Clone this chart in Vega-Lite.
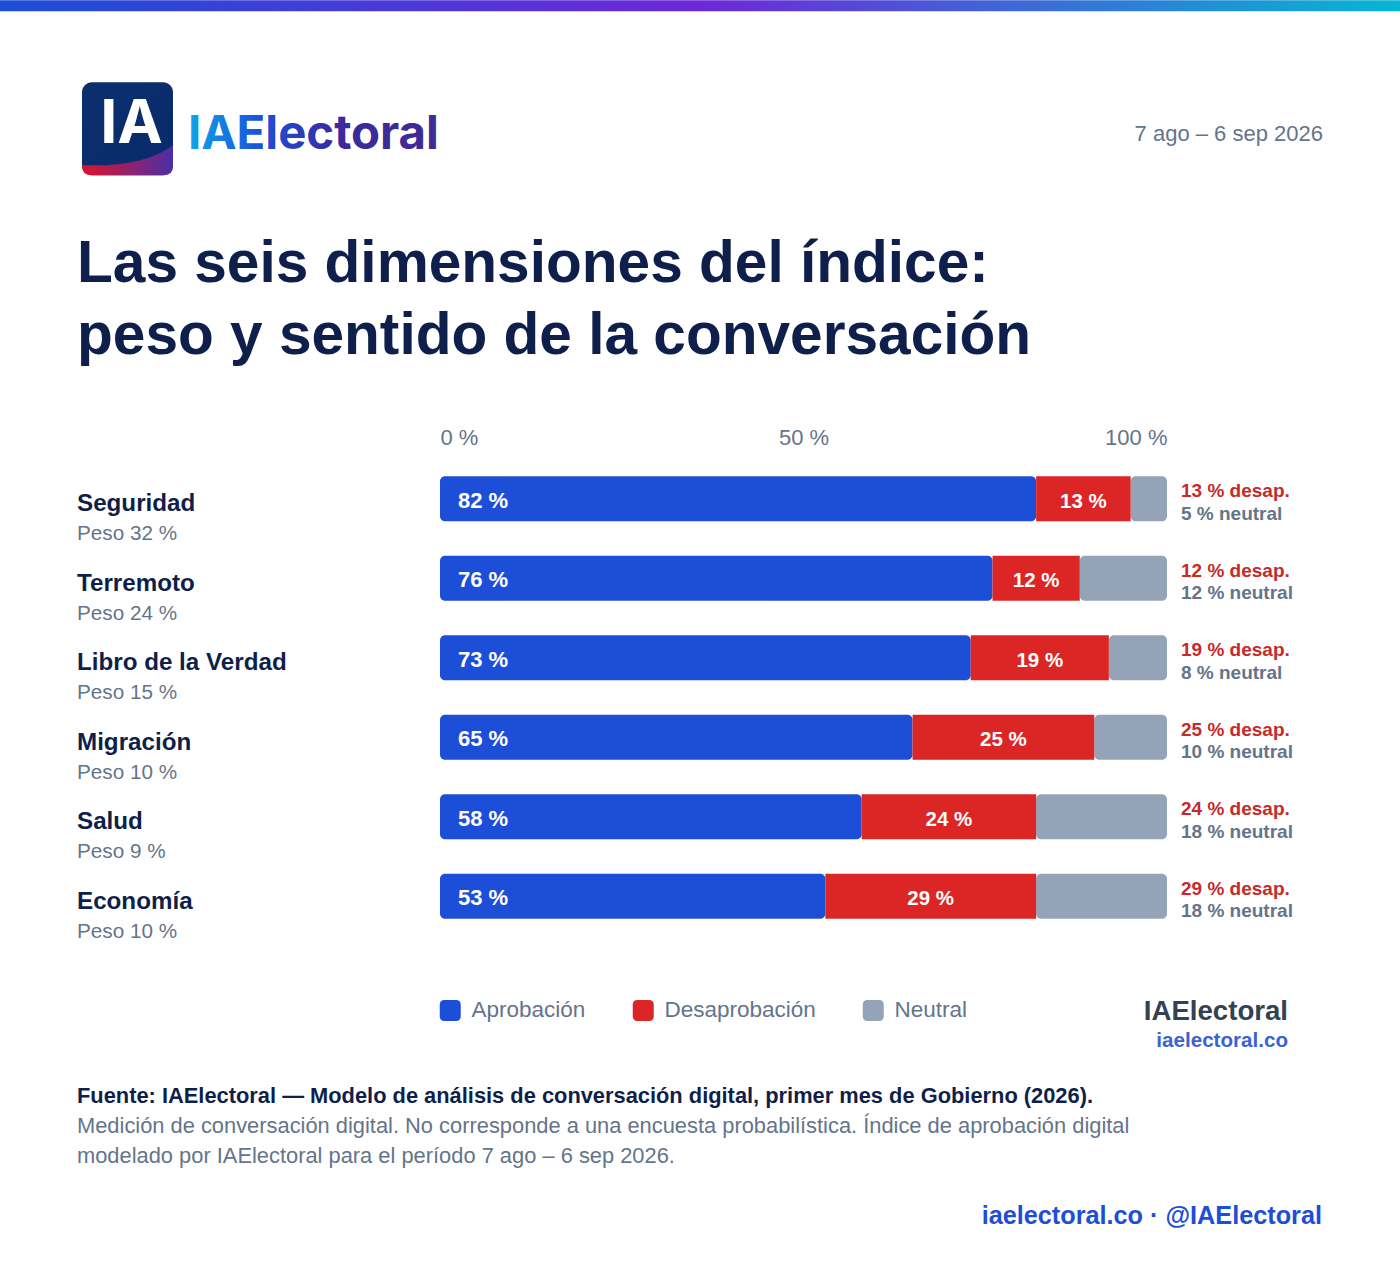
{
  "$schema": "https://vega.github.io/schema/vega-lite/v6.json",
  "description": "Las seis dimensiones del indice: peso y sentido de la conversacion",
  "background": "#ffffff",
  "autosize": "none",
  "padding": {"left": 440, "top": 459, "right": 233, "bottom": 326},
  "width": 727,
  "height": 477,
  "config": {
    "view": {"stroke": null},
    "text": {"font": "Liberation Sans"}
  },
  "title": {
    "text": ["Las seis dimensiones del índice:", "peso y sentido de la conversación"],
    "anchor": "start",
    "frame": "group",
    "baseline": "alphabetic",
    "dx": -363,
    "offset": -412,
    "font": "Liberation Sans",
    "fontSize": 58.6,
    "fontWeight": 700,
    "lineHeight": 72,
    "color": "#0f1f4b",
    "limit": 1300
  },
  "layer": [
    {
      "data": {"values": [
        {"dimension": "Seguridad", "peso": 32, "sentido": "Aprobación", "pct": 82},
        {"dimension": "Seguridad", "peso": 32, "sentido": "Desaprobación", "pct": 13},
        {"dimension": "Seguridad", "peso": 32, "sentido": "Neutral", "pct": 5},
        {"dimension": "Terremoto", "peso": 24, "sentido": "Aprobación", "pct": 76},
        {"dimension": "Terremoto", "peso": 24, "sentido": "Desaprobación", "pct": 12},
        {"dimension": "Terremoto", "peso": 24, "sentido": "Neutral", "pct": 12},
        {"dimension": "Libro de la Verdad", "peso": 15, "sentido": "Aprobación", "pct": 73},
        {"dimension": "Libro de la Verdad", "peso": 15, "sentido": "Desaprobación", "pct": 19},
        {"dimension": "Libro de la Verdad", "peso": 15, "sentido": "Neutral", "pct": 8},
        {"dimension": "Migración", "peso": 10, "sentido": "Aprobación", "pct": 65},
        {"dimension": "Migración", "peso": 10, "sentido": "Desaprobación", "pct": 25},
        {"dimension": "Migración", "peso": 10, "sentido": "Neutral", "pct": 10},
        {"dimension": "Salud", "peso": 9, "sentido": "Aprobación", "pct": 58},
        {"dimension": "Salud", "peso": 9, "sentido": "Desaprobación", "pct": 24},
        {"dimension": "Salud", "peso": 9, "sentido": "Neutral", "pct": 18},
        {"dimension": "Economía", "peso": 10, "sentido": "Aprobación", "pct": 53},
        {"dimension": "Economía", "peso": 10, "sentido": "Desaprobación", "pct": 29},
        {"dimension": "Economía", "peso": 10, "sentido": "Neutral", "pct": 18}
      ]},
      "transform": [
        {"stack": "pct", "groupby": ["dimension"], "sort": [{"field": "sentido"}], "as": ["ini", "fin"]},
        {"calculate": "(datum.ini + datum.fin) / 2", "as": "medio"},
        {"calculate": "datum.pct + ' %'", "as": "etiqueta"},
        {"calculate": "'Peso ' + datum.peso + ' %'", "as": "pesoTexto"}
      ],
      "encoding": {
        "y": {
          "field": "dimension",
          "type": "nominal",
          "axis": null,
          "sort": null,
          "scale": {
            "domain": ["Seguridad", "Terremoto", "Libro de la Verdad", "Migración", "Salud", "Economía"],
            "paddingInner": 0.434,
            "paddingOuter": 0.217
          }
        }
      },
      "layer": [
        {
          "transform": [{"filter": "datum.sentido !== 'Desaprobación'"}],
          "mark": {"type": "bar", "cornerRadius": 5},
          "encoding": {
            "x": {
              "field": "ini",
              "type": "quantitative",
              "title": null,
              "scale": {"domain": [0, 100], "nice": false},
              "axis": {
                "orient": "top",
                "values": [0, 50, 100],
                "labelExpr": "datum.value + ' %'",
                "labelFlush": true,
                "labelFont": "Liberation Sans",
                "labelFontSize": 22,
                "labelColor": "#64748b",
                "labelPadding": 10,
                "domain": false,
                "ticks": false,
                "grid": false
              }
            },
            "x2": {"field": "fin"},
            "color": {
              "field": "sentido",
              "type": "nominal",
              "scale": {
                "domain": ["Aprobación", "Desaprobación", "Neutral"],
                "range": ["#1d4ed8", "#dc2626", "#94a3b8"]
              },
              "legend": {
                "title": null,
                "orient": "none",
                "legendX": -1,
                "legendY": 540,
                "direction": "horizontal",
                "columns": 3,
                "columnPadding": 46,
                "symbolType": "M-0.55,-1 H0.55 Q1,-1 1,-0.55 V0.55 Q1,1 0.55,1 H-0.55 Q-1,1 -1,0.55 V-0.55 Q-1,-1 -0.55,-1 Z",
                "symbolSize": 441,
                "symbolStrokeWidth": 0,
                "labelFont": "Liberation Sans",
                "labelFontSize": 22.5,
                "labelColor": "#64748b",
                "labelOffset": 10
              }
            }
          }
        },
        {
          "transform": [{"filter": "datum.sentido === 'Desaprobación'"}],
          "mark": {"type": "bar"},
          "encoding": {
            "x": {"field": "ini", "type": "quantitative"},
            "x2": {"field": "fin"},
            "color": {"field": "sentido", "type": "nominal"}
          }
        },
        {
          "transform": [{"filter": "datum.sentido === 'Aprobación'"}],
          "mark": {"type": "text", "align": "left", "dx": 18, "dy": 9, "fontSize": 22, "fontWeight": 700, "color": "#ffffff", "baseline": "alphabetic"},
          "encoding": {
            "x": {"field": "ini", "type": "quantitative"},
            "text": {"field": "etiqueta"}
          }
        },
        {
          "transform": [{"filter": "datum.sentido === 'Desaprobación'"}],
          "mark": {"type": "text", "align": "center", "dy": 9, "fontSize": 20.5, "fontWeight": 700, "color": "#ffffff", "baseline": "alphabetic"},
          "encoding": {
            "x": {"field": "medio", "type": "quantitative"},
            "text": {"field": "etiqueta"}
          }
        },
        {
          "transform": [{"filter": "datum.sentido === 'Aprobación'"}],
          "mark": {"type": "text", "align": "left", "dx": -363, "dy": 12.5, "fontSize": 24.2, "fontWeight": 700, "color": "#0f1f4b", "baseline": "alphabetic"},
          "encoding": {
            "x": {"field": "ini", "type": "quantitative"},
            "text": {"field": "dimension"}
          }
        },
        {
          "transform": [{"filter": "datum.sentido === 'Aprobación'"}],
          "mark": {"type": "text", "align": "left", "dx": -363, "dy": 41.5, "fontSize": 20.7, "color": "#64748b", "baseline": "alphabetic"},
          "encoding": {
            "x": {"field": "ini", "type": "quantitative"},
            "text": {"field": "pesoTexto"}
          }
        },
        {
          "transform": [
            {"filter": "datum.sentido === 'Desaprobación'"},
            {"calculate": "datum.pct + ' % desap.'", "as": "lado"}
          ],
          "mark": {"type": "text", "align": "left", "dx": 14, "dy": -1.5, "fontSize": 19, "fontWeight": 700, "color": "#c72a2a", "baseline": "alphabetic"},
          "encoding": {
            "x": {"datum": 100},
            "text": {"field": "lado"}
          }
        },
        {
          "transform": [
            {"filter": "datum.sentido === 'Neutral'"},
            {"calculate": "datum.pct + ' % neutral'", "as": "lado"}
          ],
          "mark": {"type": "text", "align": "left", "dx": 14, "dy": 21, "fontSize": 19, "fontWeight": 700, "color": "#64748b", "baseline": "alphabetic"},
          "encoding": {
            "x": {"datum": 100},
            "text": {"field": "lado"}
          }
        }
      ]
    },
    {
      "encoding": {
        "x": {"datum": 0},
        "y": {"datum": "Seguridad", "type": "nominal"}
      },
      "layer": [
        {
          "data": {"values": [{"pieza": "franja"}]},
          "mark": {
            "type": "rect", "width": 1400, "height": 11, "xOffset": 260, "yOffset": -493,
            "fill": {"x1": 0, "y1": 0, "x2": 1, "y2": 0, "gradient": "linear", "stops": [
              {"offset": 0, "color": "#1d4ed8"},
              {"offset": 0.5, "color": "#6d28d9"},
              {"offset": 1, "color": "#06b6d4"}
            ]}
          }
        },
        {
          "data": {"values": [{"pieza": "logo"}]},
          "mark": {
            "type": "rect", "width": 91, "height": 93, "xOffset": -312.5, "yOffset": -370, "cornerRadius": 10,
            "fill": {"x1": 0, "y1": 0, "x2": 1, "y2": 1, "gradient": "linear", "stops": [
              {"offset": 0, "color": "#0b2f6e"},
              {"offset": 1, "color": "#0a2a6b"}
            ]}
          }
        },
        {
          "data": {"values": [{"pieza": "logo curva"}]},
          "mark": {
            "type": "point", "filled": true, "opacity": 1, "size": 8281, "xOffset": -312.5, "yOffset": -370,
            "shape": "M-1,0.8 Q0.35,0.85 1,0.36 V0.82 Q1,1.02 0.8,1.02 H-0.8 Q-1,1.02 -1,0.82 Z",
            "fill": {"x1": 0, "y1": 0, "x2": 1, "y2": 0, "gradient": "linear", "stops": [
              {"offset": 0.1, "color": "#d01538"},
              {"offset": 1, "color": "#4a2fa8"}
            ]}
          }
        },
        {
          "data": {"values": [{"texto": "IA"}]},
          "mark": {"type": "text", "font": "Inter", "align": "center", "baseline": "alphabetic", "dx": -308.5, "dy": -355.5, "fontSize": 61, "fontWeight": 700, "color": "#ffffff"},
          "encoding": {"text": {"field": "texto"}}
        },
        {
          "data": {"values": [{"texto": "IAElectoral"}]},
          "mark": {
            "type": "text", "font": "Inter", "align": "left", "baseline": "alphabetic", "dx": -252, "dy": -350, "fontSize": 47.3, "fontWeight": 700,
            "fill": {"x1": 0, "y1": 0, "x2": 1, "y2": 0, "gradient": "linear", "stops": [
              {"offset": 0, "color": "#0ea5e9"},
              {"offset": 0.3, "color": "#1d4ed8"},
              {"offset": 0.6, "color": "#3b2a9e"},
              {"offset": 1, "color": "#3f2a96"}
            ]}
          },
          "encoding": {"text": {"field": "texto"}}
        },
        {
          "data": {"values": [{"texto": "7 ago – 6 sep 2026"}]},
          "mark": {"type": "text", "align": "right", "baseline": "alphabetic", "dx": 883, "dy": -357.5, "fontSize": 22, "color": "#64748b"},
          "encoding": {"text": {"field": "texto"}}
        },
        {
          "data": {"values": [{"texto": "IAElectoral"}]},
          "mark": {"type": "text", "align": "right", "baseline": "alphabetic", "dx": 848, "dy": 521.5, "fontSize": 27.6, "fontWeight": 700, "color": "#334155"},
          "encoding": {"text": {"field": "texto"}}
        },
        {
          "data": {"values": [{"texto": "iaelectoral.co"}]},
          "mark": {"type": "text", "align": "right", "baseline": "alphabetic", "dx": 848, "dy": 548.5, "fontSize": 20.6, "fontWeight": 700, "color": "#3b62d6"},
          "encoding": {"text": {"field": "texto"}}
        },
        {
          "data": {"values": [{"texto": "Fuente: IAElectoral — Modelo de análisis de conversación digital, primer mes de Gobierno (2026)."}]},
          "mark": {"type": "text", "align": "left", "baseline": "alphabetic", "dx": -363, "dy": 604.5, "fontSize": 21.85, "fontWeight": 700, "color": "#0f1f4b"},
          "encoding": {"text": {"field": "texto"}}
        },
        {
          "data": {"values": [{"texto": "Medición de conversación digital. No corresponde a una encuesta probabilística. Índice de aprobación digital"}]},
          "mark": {"type": "text", "align": "left", "baseline": "alphabetic", "dx": -363, "dy": 634.5, "fontSize": 21.87, "color": "#64748b"},
          "encoding": {"text": {"field": "texto"}}
        },
        {
          "data": {"values": [{"texto": "modelado por IAElectoral para el período 7 ago – 6 sep 2026."}]},
          "mark": {"type": "text", "align": "left", "baseline": "alphabetic", "dx": -363, "dy": 664.5, "fontSize": 21.87, "color": "#64748b"},
          "encoding": {"text": {"field": "texto"}}
        },
        {
          "data": {"values": [{"texto": "iaelectoral.co · @IAElectoral"}]},
          "mark": {"type": "text", "align": "right", "baseline": "alphabetic", "dx": 882, "dy": 725.5, "fontSize": 25.25, "fontWeight": 700, "color": "#1d4ed8"},
          "encoding": {"text": {"field": "texto"}}
        }
      ]
    }
  ]
}
